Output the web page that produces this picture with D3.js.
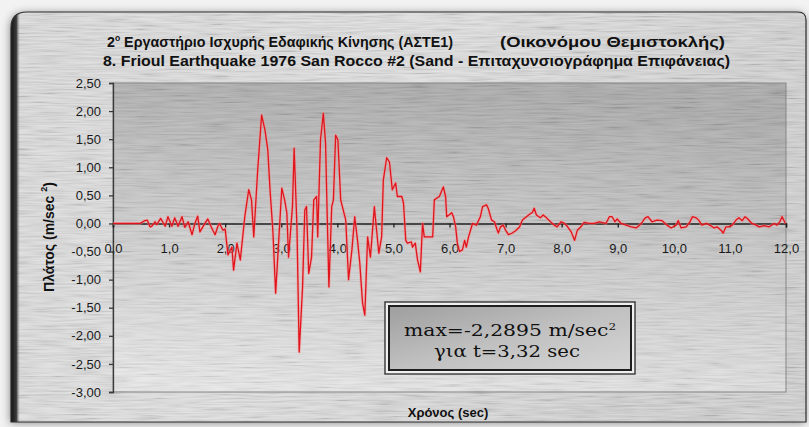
<!DOCTYPE html>
<html>
<head>
<meta charset="utf-8">
<script src="https://cdn.jsdelivr.net/npm/d3@7/dist/d3.min.js"></script>
<style>
  html, body { margin: 0; padding: 0; background: #ffffff; }
  svg { display: block; }
</style>
</head>
<body>
<svg id="chart" width="809" height="427"></svg>
<script>
// Titles and labels
const titleLine1a = "2";
const titleLine1sup = "ο";
const titleLine1b = " Εργαστήριο Ισχυρής Εδαφικής Κίνησης (ΑΣΤΕ1)";
const titleLine1c = "(Οικονόμου Θεμιστοκλής)";
const titleLine2 = "8. Frioul Earthquake 1976 San Rocco #2 (Sand - Επιταχυνσιογράφημα Επιφάνειας)";
const yTitle = "Πλάτος (m/sec";
const xTitle = "Χρόνος (sec)";

// Axis ticks
const yTicks = [2.5, 2.0, 1.5, 1.0, 0.5, 0.0, -0.5, -1.0, -1.5, -2.0, -2.5, -3.0];
const xTicks = [0, 1, 2, 3, 4, 5, 6, 7, 8, 9, 10, 11, 12];

// Peak annotation
const peakValue = -2.2895;
const peakTime = 3.32;

// Acceleration record: time (sec) and amplitude (m/sec²)
const timeSec = [
  0, 0.34, 0.48, 0.57, 0.61, 0.66, 0.69, 0.75, 0.78, 0.85,
  0.93, 0.98, 1.05, 1.10, 1.16, 1.23, 1.28, 1.34, 1.41, 1.46,
  1.51, 1.55, 1.62, 1.69, 1.76, 1.82, 1.87, 1.90, 1.96, 2.00,
  2.05, 2.12, 2.15, 2.21, 2.27, 2.35, 2.42, 2.47, 2.51, 2.58,
  2.65, 2.71, 2.76, 2.80, 2.85, 2.90, 3.01, 3.06, 3.10, 3.13,
  3.20, 3.23, 3.28, 3.32, 3.38, 3.42, 3.45, 3.49, 3.54, 3.58,
  3.63, 3.65, 3.70, 3.75, 3.79, 3.81, 3.85, 3.90, 3.93, 3.97,
  4.01, 4.06, 4.09, 4.15, 4.20, 4.26, 4.31, 4.36, 4.40, 4.45,
  4.49, 4.54, 4.59, 4.66, 4.70, 4.74, 4.79, 4.82, 4.88, 4.93,
  4.98, 5.04, 5.07, 5.15, 5.18, 5.22, 5.25, 5.32, 5.34, 5.39,
  5.43, 5.48, 5.50, 5.52, 5.55, 5.64, 5.70, 5.73, 5.77, 5.82,
  5.89, 5.93, 5.95, 6.04, 6.07, 6.11, 6.14, 6.18, 6.23, 6.27,
  6.30, 6.34, 6.41, 6.48, 6.55, 6.59, 6.66, 6.69, 6.75, 6.80,
  6.87, 6.91, 6.96, 7.00, 7.05, 7.12, 7.19, 7.25, 7.30, 7.35,
  7.41, 7.48, 7.51, 7.55, 7.62, 7.67, 7.73, 7.80, 7.87, 7.92,
  7.99, 8.05, 8.10, 8.17, 8.23, 8.28, 8.35, 8.40, 8.49, 8.58,
  8.67, 8.79, 8.85, 8.90, 8.95, 8.99, 9.06, 9.15, 9.24, 9.33,
  9.42, 9.49, 9.54, 9.61, 9.70, 9.79, 9.88, 9.95, 10.04, 10.08,
  10.13, 10.22, 10.29, 10.33, 10.40, 10.45, 10.50, 10.58, 10.66, 10.72,
  10.77, 10.84, 10.88, 10.93, 10.98, 11.04, 11.11, 11.16, 11.22, 11.27,
  11.32, 11.39, 11.47, 11.52, 11.61, 11.70, 11.79, 11.84, 11.89, 11.93,
  11.99
];
const accel = [
  0, 0, 0, 0.05, 0.06, -0.06, -0.05, 0.03, -0.02, 0.09,
  -0.05, 0.12, -0.05, 0.10, -0.05, 0.12, -0.07, 0.03, -0.20, 0.00,
  0.13, -0.15, -0.03, 0.08, -0.08, -0.20, -0.05, 0.00, -0.12, -0.10,
  -0.56, -0.42, -0.83, -0.35, -0.65, 0.12, 0.60, 0.42, -0.24, 0.95,
  1.93, 1.66, 1.31, 0.60, -0.12, -1.24, 0.63, 0.42, 0.19, -0.60,
  0.30, 1.34, -0.06, -2.2895, -1.13, 0.24, 0.30, -0.89, -0.60, 0.42,
  0.48, -0.24, 1.49, 1.96, 1.43, 0.54, -1.13, 0.30, 0.42, 1.57,
  1.49, 0.42, 0.30, 0.06, -1.00, -0.47, 0.12, -0.30, -0.70, -1.42,
  -1.63, -0.24, -0.60, 0.30, -0.12, -0.53, -0.24, 0.77, 1.17, 1.09,
  0.60, 0.72, 0.48, 0.48, 0.36, -0.30, -0.35, -0.33, -0.42, -0.35,
  -0.65, -0.86, -0.42, 0.00, -0.24, -0.24, -0.24, 0.42, 0.45, 0.48,
  0.65, 0.48, 0.12, 0.19, 0.12, -0.06, -0.35, -0.50, -0.47, -0.30,
  -0.42, -0.24, 0.00, -0.03, 0.12, 0.30, 0.33, 0.27, 0.06, 0.03,
  -0.17, -0.06, -0.03, -0.12, -0.20, -0.17, -0.12, -0.06, 0.06, 0.10,
  0.15, 0.20, 0.27, 0.15, 0.10, 0.15, 0.10, 0.03, -0.03, -0.06,
  0.03, 0.00, -0.05, -0.15, -0.30, -0.12, -0.05, 0.02, 0.00, 0.00,
  0.03, 0.00, 0.12, 0.12, 0.03, 0.08, 0.00, -0.03, -0.06, -0.08,
  0.00, 0.10, 0.12, 0.03, 0.06, 0.05, -0.03, -0.08, -0.03, 0.05,
  -0.08, -0.06, 0.03, 0.12, 0.10, 0.05, -0.03, 0.00, -0.04, -0.08,
  -0.06, -0.12, -0.17, -0.06, -0.06, -0.03, 0.06, 0.10, 0.05, 0.12,
  0.08, 0.00, -0.03, -0.06, -0.04, -0.06, 0.00, -0.03, 0.03, 0.12,
  0.00
];

const SANS = "'Liberation Sans', Arial, sans-serif";
const SERIF = "'DejaVu Serif', 'Liberation Serif', serif";

const locale = d3.formatLocale({ decimal: ",", thousands: ".", grouping: [3], currency: ["", "€"], minus: "-" });
const fmtY = locale.format(".2f");
const fmtX = locale.format(".1f");
const fmtPeak = locale.format(".4f");
const fmtT = locale.format(".2f");

const svg = d3.select("#chart");
const W = 809, H = 427;
const plot = { left: 113, right: 786, top: 83, bottom: 392 };

const x = d3.scaleLinear().domain([0, 12]).range([plot.left, plot.right]);
const y = d3.scaleLinear().domain([-3, 2.5]).range([plot.bottom, plot.top]);

const defs = svg.append("defs");

// brushed-metal streaks
const brush = defs.append("filter").attr("id", "brush")
  .attr("x", 0).attr("y", 0).attr("width", "100%").attr("height", "100%");
brush.append("feTurbulence").attr("type", "fractalNoise")
  .attr("baseFrequency", "0.03 0.55").attr("numOctaves", 2).attr("seed", 5);
brush.append("feColorMatrix").attr("type", "matrix")
  .attr("values", "1.8 0 0 0 -0.35  1.8 0 0 0 -0.35  1.8 0 0 0 -0.35  0 0 0 0 0.15");

const shadow = defs.append("filter").attr("id", "panelShadow")
  .attr("x", "-5%").attr("y", "-5%").attr("width", "110%").attr("height", "110%");
shadow.append("feDropShadow").attr("dx", -1).attr("dy", 1).attr("stdDeviation", 4)
  .attr("flood-color", "#000").attr("flood-opacity", 0.45);

const panelGrad = defs.append("linearGradient").attr("id", "panelGrad")
  .attr("x1", 0).attr("y1", 0).attr("x2", 1).attr("y2", 0.3);
panelGrad.append("stop").attr("offset", 0).attr("stop-color", "#d9d9d9");
panelGrad.append("stop").attr("offset", 0.5).attr("stop-color", "#dedede");
panelGrad.append("stop").attr("offset", 1).attr("stop-color", "#cfcfcf");

const plotGrad = defs.append("linearGradient").attr("id", "plotGrad")
  .attr("x1", 0.4).attr("y1", 0).attr("x2", 0.2).attr("y2", 1);
plotGrad.append("stop").attr("offset", 0).attr("stop-color", "#a9a9a9");
plotGrad.append("stop").attr("offset", 0.45).attr("stop-color", "#c8c8c8");
plotGrad.append("stop").attr("offset", 1).attr("stop-color", "#e6e6e6");

const leftEdge = defs.append("linearGradient").attr("id", "leftEdge")
  .attr("x1", 0).attr("y1", 0).attr("x2", 1).attr("y2", 0);
leftEdge.append("stop").attr("offset", 0).attr("stop-color", "#141414");
leftEdge.append("stop").attr("offset", 0.6).attr("stop-color", "#3a3a3a");
leftEdge.append("stop").attr("offset", 1).attr("stop-color", "#9a9a9a").attr("stop-opacity", 0);

const boxGrad = defs.append("linearGradient").attr("id", "boxGrad")
  .attr("x1", 0).attr("y1", 0).attr("x2", 1).attr("y2", 1);
boxGrad.append("stop").attr("offset", 0).attr("stop-color", "#9e9e9e");
boxGrad.append("stop").attr("offset", 0.5).attr("stop-color", "#c0c0c0");
boxGrad.append("stop").attr("offset", 1).attr("stop-color", "#d6d6d6");

// outer page tone
svg.append("rect").attr("width", W).attr("height", H).attr("fill", "#f2f2f2");

// chart panel
const panel = { x: 11, y: 12, w: 795, h: 410, r: 16 };
const panelPath = `M${panel.x},${panel.y + panel.r} Q${panel.x},${panel.y} ${panel.x + panel.r},${panel.y}`
  + ` L${panel.x + panel.w - 8},${panel.y} Q${panel.x + panel.w},${panel.y} ${panel.x + panel.w},${panel.y + 8}`
  + ` L${panel.x + panel.w},${panel.y + panel.h} L${panel.x},${panel.y + panel.h} Z`;

defs.append("clipPath").attr("id", "panelClip").append("path").attr("d", panelPath);

svg.append("path").attr("d", panelPath).attr("fill", "url(#panelGrad)")
  .attr("filter", "url(#panelShadow)");
svg.append("rect").attr("x", panel.x).attr("y", panel.y).attr("width", panel.w).attr("height", panel.h)
  .attr("clip-path", "url(#panelClip)").attr("filter", "url(#brush)");
svg.append("rect").attr("x", panel.x).attr("y", panel.y).attr("width", 9).attr("height", panel.h)
  .attr("fill", "url(#leftEdge)").attr("clip-path", "url(#panelClip)");
svg.append("path").attr("d", panelPath).attr("fill", "none")
  .attr("stroke", "#2e2e2e").attr("stroke-width", 1.2);

// plot area
svg.append("rect").attr("x", plot.left).attr("y", plot.top)
  .attr("width", plot.right - plot.left).attr("height", plot.bottom - plot.top)
  .attr("fill", "url(#plotGrad)");
svg.append("rect").attr("x", plot.left).attr("y", plot.top)
  .attr("width", plot.right - plot.left).attr("height", plot.bottom - plot.top)
  .attr("filter", "url(#brush)").attr("opacity", 0.8);
svg.append("rect").attr("x", plot.left).attr("y", plot.top)
  .attr("width", plot.right - plot.left).attr("height", plot.bottom - plot.top)
  .attr("fill", "none").attr("stroke", "#858585").attr("stroke-width", 1);

// titles
const t1 = svg.append("text").attr("x", 107).attr("y", 47)
  .style("font-family", SANS).attr("font-size", 15).attr("font-weight", "bold").attr("fill", "#111")
  .attr("textLength", 346).attr("lengthAdjust", "spacingAndGlyphs");
t1.append("tspan").text(titleLine1a);
t1.append("tspan").attr("dy", -6).attr("font-size", 9).text(titleLine1sup);
t1.append("tspan").attr("dy", 6).text(titleLine1b);
svg.append("text").attr("x", 725).attr("y", 47).attr("text-anchor", "end")
  .style("font-family", SANS).attr("font-size", 15).attr("font-weight", "bold").attr("fill", "#111")
  .attr("textLength", 225).attr("lengthAdjust", "spacingAndGlyphs").text(titleLine1c);
svg.append("text").attr("x", 103).attr("y", 66)
  .style("font-family", SANS).attr("font-size", 15).attr("font-weight", "bold").attr("fill", "#111")
  .attr("textLength", 627).attr("lengthAdjust", "spacingAndGlyphs").text(titleLine2);

// y axis
const yAxis = d3.axisLeft(y).tickValues(yTicks).tickFormat(fmtY).tickSize(4).tickPadding(8);
const gy = svg.append("g").attr("transform", `translate(${plot.left},0)`).call(yAxis);
gy.select(".domain").attr("stroke", "#3a3a3a").attr("stroke-width", 1.3);
gy.selectAll(".tick line").attr("stroke", "#3a3a3a").attr("stroke-width", 1.3);
gy.selectAll(".tick text").attr("font-size", 13).attr("fill", "#1a1a1a").style("font-family", SANS);

// x axis on the zero line
const xAxis = d3.axisBottom(x).tickValues(xTicks).tickFormat(fmtX).tickSize(4).tickPadding(16);
const gx = svg.append("g").attr("transform", `translate(0,${y(0)})`).call(xAxis);
gx.select(".domain").attr("stroke", "#1e1e1e").attr("stroke-width", 1.5);
gx.selectAll(".tick line").attr("stroke", "#1e1e1e").attr("stroke-width", 1.3);
gx.selectAll(".tick text").attr("font-size", 13).attr("fill", "#1a1a1a").style("font-family", SANS);

// axis titles
const yt = svg.append("text")
  .attr("transform", `translate(54,237) rotate(-90)`)
  .attr("text-anchor", "middle").style("font-family", SANS)
  .attr("font-size", 14).attr("font-weight", "bold").attr("fill", "#111");
yt.append("tspan").text(yTitle + "  ");
yt.append("tspan").attr("dy", -7).attr("font-size", 9).text("2");
yt.append("tspan").attr("dy", 7).text(")");

svg.append("text").attr("x", 448).attr("y", 417).attr("text-anchor", "middle")
  .style("font-family", SANS).attr("font-size", 13).attr("font-weight", "bold").attr("fill", "#111").text(xTitle);

// acceleration trace
const series = timeSec.map((t, i) => ({ t, a: accel[i] }));
const line = d3.line().x(d => x(d.t)).y(d => y(d.a));
svg.append("path").datum(series).attr("d", line).attr("fill", "none")
  .attr("stroke", "#ff8a8a").attr("stroke-opacity", 0.45).attr("stroke-width", 3)
  .attr("stroke-linejoin", "round");
svg.append("path").datum(series).attr("d", line).attr("fill", "none")
  .attr("stroke", "#e0141c").attr("stroke-width", 1.3).attr("stroke-linejoin", "round");

// peak annotation box
const box = { x: 385, y: 302, w: 250, h: 72 };
svg.append("rect").attr("x", box.x).attr("y", box.y).attr("width", box.w).attr("height", box.h)
  .attr("fill", "#efefef").attr("stroke", "#2a2a2a").attr("stroke-width", 1.3);
svg.append("rect").attr("x", box.x + 4).attr("y", box.y + 4).attr("width", box.w - 8).attr("height", box.h - 8)
  .attr("fill", "url(#boxGrad)").attr("stroke", "#1e1e1e").attr("stroke-width", 2);

const cx = box.x + box.w / 2;
const l1 = svg.append("text").attr("x", cx).attr("y", 336).attr("text-anchor", "middle")
  .style("font-family", SERIF).attr("font-size", 17).attr("fill", "#111")
  .attr("textLength", 212).attr("lengthAdjust", "spacingAndGlyphs");
l1.append("tspan").text(`max=${fmtPeak(peakValue)} m/sec`);
l1.append("tspan").attr("dy", -6).attr("font-size", 10).text("2");
svg.append("text").attr("x", cx - 3).attr("y", 357).attr("text-anchor", "middle")
  .style("font-family", SERIF).attr("font-size", 17).attr("fill", "#111")
  .attr("textLength", 146).attr("lengthAdjust", "spacingAndGlyphs")
  .text(`για t=${fmtT(peakTime)} sec`);
</script>
</body>
</html>
